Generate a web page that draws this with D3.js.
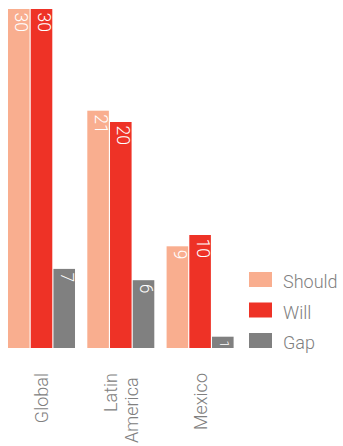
<!DOCTYPE html>
<html>
<head>
<meta charset="utf-8">
<script src="https://cdn.jsdelivr.net/npm/d3@7"></script>
<style>
  html, body { margin: 0; padding: 0; background: #fff; }
  svg { display: block; font-family: Roboto, "Helvetica Neue", Arial, sans-serif; }
</style>
</head>
<body>
<svg id="chart" width="343" height="446"></svg>
<script>
// Regions and their axis label lines
const regions = ["Global", "Latin America", "Mexico"];
const regionLines = [["Global"], ["Latin", "America"], ["Mexico"]];

// Series
const seriesNames = ["Should", "Will", "Gap"];
const shouldValues = [30, 21, 9];
const willValues = [30, 20, 10];
const gapValues = [7, 6, 1];

const colors = ["#F9AE8F", "#EE3226", "#808080"];
const textGray = "#808080";

const svg = d3.select("#chart");

const rows = regions.map((r, i) => ({
  region: r,
  lines: regionLines[i],
  values: [shouldValues[i], willValues[i], gapValues[i]]
}));

const x0 = d3.scaleBand().domain(regions).range([8, 233.6]).paddingInner(0.155).paddingOuter(0);
const x1 = d3.scaleBand().domain(seriesNames).range([0, x0.bandwidth()]).paddingInner(0.05);
const y = d3.scaleLinear().domain([0, 30]).range([348, 9]);

const groups = svg.selectAll("g.region")
  .data(rows)
  .join("g")
  .attr("class", "region")
  .attr("transform", d => `translate(${x0(d.region)},0)`);

const bars = groups.selectAll("g.bar")
  .data(d => d.values.map((v, k) => ({ name: seriesNames[k], value: v, k })))
  .join("g")
  .attr("class", "bar");

bars.append("rect")
  .attr("x", d => x1(d.name))
  .attr("y", d => y(d.value))
  .attr("width", x1.bandwidth())
  .attr("height", d => y(0) - y(d.value))
  .attr("fill", d => colors[d.k]);

// Value labels, rotated to read downwards inside the top of each bar
bars.append("text")
  .attr("transform", d => `translate(${x1(d.name) + x1.bandwidth() / 2},${y(d.value) + 3.5}) rotate(90)`)
  .attr("dy", "0.2em")
  .attr("text-anchor", "start")
  .attr("fill", "#fff")
  .attr("font-size", d => d.value < 2 ? 13 : 17.5)
  .attr("font-weight", 300)
  .text(d => d.value);

// Region labels, rotated to read upwards below the bars
const lineHeight = 21;
const labelTop = 373;
const labelBottom = 443;
svg.selectAll("g.xlabel")
  .data(rows)
  .join("g")
  .attr("class", "xlabel")
  .each(function(d) {
    const cx = x0(d.region) + x0.bandwidth() / 2;
    const n = d.lines.length;
    d.lines.forEach((line, j) => {
      const off = (j - (n - 1) / 2) * lineHeight;
      // later lines of a wrapped label sit against the bottom edge
      const last = n > 1 && j === n - 1;
      d3.select(this).append("text")
        .attr("transform", `translate(${cx + off},${last ? labelBottom : labelTop}) rotate(-90)`)
        .attr("dy", "0.36em")
        .attr("text-anchor", last ? "start" : "end")
        .attr("fill", textGray)
        .attr("font-size", 18)
        .attr("font-weight", 300)
        .text(line);
    });
  });

// Legend
const legend = svg.append("g").attr("transform", "translate(249,272)");
const items = legend.selectAll("g")
  .data(seriesNames)
  .join("g")
  .attr("transform", (d, i) => `translate(0,${i * 30.5})`);
items.append("rect")
  .attr("width", 23)
  .attr("height", 15)
  .attr("fill", (d, i) => colors[i]);
items.append("text")
  .attr("x", 34)
  .attr("y", 16)
  .attr("fill", textGray)
  .attr("font-size", 18)
  .attr("font-weight", 300)
  .text(d => d);
</script>
</body>
</html>
